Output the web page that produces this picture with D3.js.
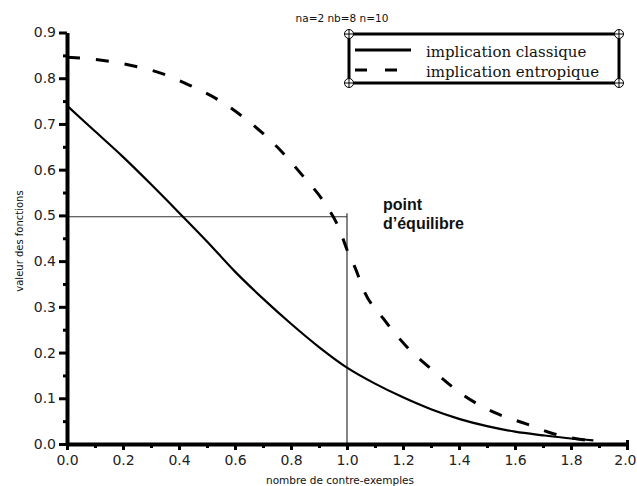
<!DOCTYPE html>
<html>
<head>
<meta charset="utf-8">
<script src="https://cdn.jsdelivr.net/npm/d3@7"></script>
<style>
  html, body { margin: 0; padding: 0; background: #fff; }
  svg { display: block; }
</style>
</head>
<body>
<svg id="chart" width="637" height="486"></svg>
<script>
// Number of counter-examples (x) for each series
const classiqueX = [0.0, 0.1, 0.2, 0.3, 0.4, 0.5, 0.6, 0.7, 0.8, 0.9, 1.0, 1.1, 1.2, 1.3, 1.4, 1.5, 1.6, 1.7, 1.8, 1.88];
const classiqueY = [0.740, 0.684, 0.628, 0.568, 0.506, 0.443, 0.377, 0.318, 0.263, 0.212, 0.167, 0.132, 0.102, 0.076, 0.055, 0.039, 0.027, 0.019, 0.012, 0.008];

const entropiqueX = [0.0, 0.13, 0.23, 0.34, 0.44, 0.55, 0.65, 0.75, 0.84, 0.92, 0.975, 1.0, 1.03, 1.06, 1.13, 1.21, 1.32, 1.42, 1.53, 1.64, 1.74, 1.87];
const entropiqueY = [0.846, 0.839, 0.828, 0.810, 0.784, 0.749, 0.705, 0.650, 0.588, 0.527, 0.467, 0.425, 0.384, 0.336, 0.274, 0.215, 0.154, 0.105, 0.068, 0.044, 0.022, 0.007];

// Equilibrium point
const equilibreX = 1.0;
const equilibreY = 0.497;

// Axis ticks
const xMajorTicks = [0.0, 0.2, 0.4, 0.6, 0.8, 1.0, 1.2, 1.4, 1.6, 1.8, 2.0];
const xMinorTicks = [0.1, 0.3, 0.5, 0.7, 0.9, 1.1, 1.3, 1.5, 1.7, 1.9];
const yMajorTicks = [0.0, 0.1, 0.2, 0.3, 0.4, 0.5, 0.6, 0.7, 0.8, 0.9];
const yMinorTicks = [0.05, 0.15, 0.25, 0.35, 0.45, 0.55, 0.65, 0.75, 0.85];

const titleText = "na=2 nb=8 n=10";
const xTitle = "nombre de contre-exemples";
const yTitle = "valeur des fonctions";
const legendLabels = ["implication classique", "implication entropique"];
const annotation = ["point", "d\u2019équilibre"];

const svg = d3.select("#chart");

const x = d3.scaleLinear().domain([0, 2]).range([67, 627]);
const y = d3.scaleLinear().domain([0, 0.9]).range([444, 32.5]);

const fmt = d3.format(".1f");

// Title
svg.append("text")
  .attr("x", 342).attr("y", 22)
  .attr("text-anchor", "middle")
  .attr("font-family", "DejaVu Sans, Verdana, sans-serif")
  .attr("font-size", 10.5)
  .attr("fill", "#111")
  .text(titleText);

// Reference lines to the equilibrium point
svg.append("line")
  .attr("x1", x(0)).attr("x2", x(equilibreX))
  .attr("y1", y(equilibreY)).attr("y2", y(equilibreY))
  .attr("stroke", "#333").attr("stroke-width", 1.2);
svg.append("line")
  .attr("x1", x(equilibreX)).attr("x2", x(equilibreX))
  .attr("y1", y(0)).attr("y2", y(equilibreY) - 3.5)
  .attr("stroke", "#333").attr("stroke-width", 1.2);

// Curves
const line = d3.line().x(d => x(d[0])).y(d => y(d[1])).curve(d3.curveMonotoneX);

const classique = classiqueX.map((v, i) => [v, classiqueY[i]]);
const entropique = entropiqueX.map((v, i) => [v, entropiqueY[i]]);

svg.append("path")
  .datum(classique)
  .attr("d", line)
  .attr("fill", "none")
  .attr("stroke", "#000")
  .attr("stroke-width", 2.2);

svg.append("path")
  .datum(entropique)
  .attr("d", line)
  .attr("fill", "none")
  .attr("stroke", "#000")
  .attr("stroke-width", 3)
  .attr("stroke-dasharray", "13,16");

// Y axis: major and minor ticks
const yAxisG = svg.append("g").attr("transform", `translate(${x(0)},0)`)
  .call(d3.axisLeft(y).tickValues(yMajorTicks).tickFormat(fmt).tickSize(8).tickPadding(3).tickSizeOuter(0));
svg.append("g").attr("transform", `translate(${x(0)},0)`)
  .call(d3.axisLeft(y).tickValues(yMinorTicks).tickFormat("").tickSize(4).tickSizeOuter(0))
  .call(g => g.select(".domain").remove())
  .selectAll("line").attr("stroke-width", 3);

// X axis: major and minor ticks
const xAxisG = svg.append("g").attr("transform", `translate(0,${y(0)})`)
  .call(d3.axisBottom(x).tickValues(xMajorTicks).tickFormat(fmt).tickSize(6).tickPadding(5).tickSizeOuter(0));
svg.append("g").attr("transform", `translate(0,${y(0)})`)
  .call(d3.axisBottom(x).tickValues(xMinorTicks).tickFormat("").tickSize(4).tickSizeOuter(0))
  .call(g => g.select(".domain").remove())
  .selectAll("line").attr("stroke-width", 3);
// End ticks crossing the axis
svg.append("g").attr("transform", `translate(0,${y(0)})`)
  .call(d3.axisTop(x).tickValues([0, 2]).tickFormat("").tickSize(4).tickSizeOuter(0))
  .call(g => g.select(".domain").remove())
  .selectAll("line").attr("stroke-width", 3);

[yAxisG, xAxisG].forEach(g => {
  g.select(".domain").attr("stroke", "#000").attr("stroke-width", 4);
  g.selectAll(".tick line").attr("stroke", "#000").attr("stroke-width", 3);
  g.selectAll(".tick text")
    .attr("font-family", "DejaVu Sans, Verdana, sans-serif")
    .attr("font-size", 14)
    .attr("fill", "#222");
});
// Keep the last x label inside the page edge
xAxisG.selectAll(".tick text").filter(d => d === 2)
  .attr("text-anchor", "end").attr("dx", 9);

// Axis titles
svg.append("text")
  .attr("x", 340).attr("y", 484)
  .attr("text-anchor", "middle")
  .attr("font-family", "DejaVu Sans, Verdana, sans-serif")
  .attr("font-size", 10.5)
  .attr("fill", "#111")
  .text(xTitle);

svg.append("text")
  .attr("transform", "translate(23,241) rotate(-90)")
  .attr("text-anchor", "middle")
  .attr("font-family", "DejaVu Sans, Verdana, sans-serif")
  .attr("font-size", 10)
  .attr("fill", "#111")
  .text(yTitle);

// Annotation
const ann = svg.append("text")
  .attr("font-family", "Liberation Sans, Arial, sans-serif")
  .attr("font-weight", "bold")
  .attr("font-size", 16)
  .attr("fill", "#111");
ann.selectAll("tspan").data(annotation).join("tspan")
  .attr("x", 383)
  .attr("y", (d, i) => 210 + i * 19)
  .text(d => d);

// Legend
const legend = svg.append("g");
const lx0 = 349, lx1 = 619, ly0 = 34, ly1 = 83;
legend.append("rect")
  .attr("x", lx0).attr("y", ly0)
  .attr("width", lx1 - lx0).attr("height", ly1 - ly0)
  .attr("fill", "#fff").attr("stroke", "#000").attr("stroke-width", 3);

const corners = [[lx0, ly0], [lx1, ly0], [lx0, ly1], [lx1, ly1]];
const cg = legend.selectAll("g.corner").data(corners).join("g")
  .attr("class", "corner")
  .attr("transform", d => `translate(${d[0]},${d[1]})`);
cg.append("circle").attr("r", 4.5).attr("fill", "#fff").attr("stroke", "#000").attr("stroke-width", 1);
cg.append("line").attr("x1", -4.5).attr("x2", 4.5).attr("stroke", "#000").attr("stroke-width", 1);
cg.append("line").attr("y1", -4.5).attr("y2", 4.5).attr("stroke", "#000").attr("stroke-width", 1);

const legendRows = legend.selectAll("g.row").data(legendLabels).join("g")
  .attr("class", "row")
  .attr("transform", (d, i) => `translate(0,${50 + i * 20})`);
legendRows.append("line")
  .attr("x1", 355).attr("x2", 411)
  .attr("stroke", "#000").attr("stroke-width", 3.2)
  .attr("stroke-dasharray", (d, i) => i === 0 ? null : "12,18");
legendRows.append("text")
  .attr("x", 426).attr("y", 6.5)
  .attr("font-family", "DejaVu Serif, serif")
  .attr("font-size", 15)
  .attr("fill", "#111")
  .text(d => d);
</script>
</body>
</html>
